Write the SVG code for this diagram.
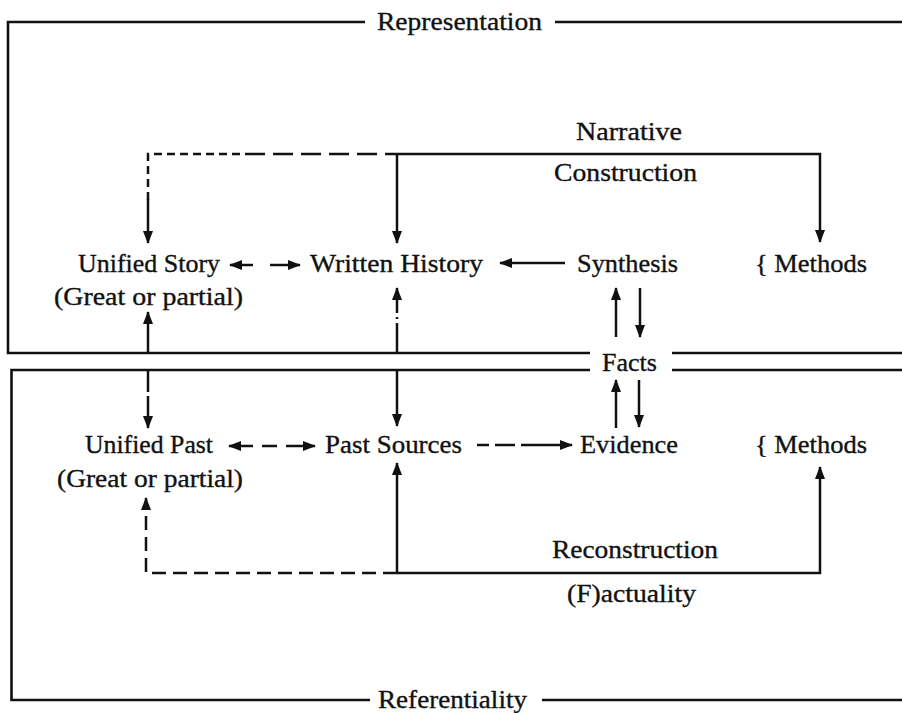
<svg xmlns="http://www.w3.org/2000/svg" width="902" height="713" viewBox="0 0 902 713">
<style>
  .t{font-family:"Liberation Serif","Times New Roman",serif;font-size:26px;fill:#111;stroke:#111;stroke-width:0.35}
  .box{fill:none;stroke:#111;stroke-width:2.6}
  .c{fill:none;stroke:#111;stroke-width:2.5}
  .d{stroke-dasharray:14 7}
</style>
<defs>
  <marker id="ah" viewBox="0 0 13 10" refX="12" refY="5" markerWidth="13" markerHeight="10" orient="auto-start-reverse" markerUnits="userSpaceOnUse">
    <path d="M0,0 L13,5 L0,10 z" fill="#111"/>
  </marker>
</defs>

<g id="frames">
  <path class="box" d="M365,22 H8 V353 H590 M555,22 H902 M672,353 H902"/>
  <path class="box" d="M590,370 H11.5 V700 H370 M672,370 H902 M542,700 H902"/>
  <text class="t" x="377" y="30" textLength="165" lengthAdjust="spacingAndGlyphs">Representation</text>
  <text class="t" x="602" y="371" textLength="55" lengthAdjust="spacingAndGlyphs">Facts</text>
  <text class="t" x="378" y="708" textLength="149" lengthAdjust="spacingAndGlyphs">Referentiality</text>
</g>

<g id="labels">
  <text class="t" x="576" y="140" textLength="106" lengthAdjust="spacingAndGlyphs">Narrative</text>
  <text class="t" x="554" y="181" textLength="143" lengthAdjust="spacingAndGlyphs">Construction</text>
  <text class="t" x="552" y="558" textLength="166" lengthAdjust="spacingAndGlyphs">Reconstruction</text>
  <text class="t" x="567" y="602" textLength="129" lengthAdjust="spacingAndGlyphs">(F)actuality</text>
</g>

<g id="unified-story">
  <text class="t" x="78" y="272" textLength="142" lengthAdjust="spacingAndGlyphs">Unified Story</text>
  <text class="t" x="54" y="305" textLength="189" lengthAdjust="spacingAndGlyphs">(Great or partial)</text>
</g>
<g id="written-history">
  <text class="t" x="310" y="272" textLength="173" lengthAdjust="spacingAndGlyphs">Written History</text>
</g>
<g id="synthesis">
  <text class="t" x="577" y="272" textLength="101" lengthAdjust="spacingAndGlyphs">Synthesis</text>
</g>
<g id="methods-top">
  <text class="t" x="755" y="272" textLength="112" lengthAdjust="spacingAndGlyphs">{ Methods</text>
</g>
<g id="unified-past">
  <text class="t" x="85" y="453" textLength="128" lengthAdjust="spacingAndGlyphs">Unified Past</text>
  <text class="t" x="57" y="487" textLength="186" lengthAdjust="spacingAndGlyphs">(Great or partial)</text>
</g>
<g id="past-sources">
  <text class="t" x="325" y="453" textLength="137" lengthAdjust="spacingAndGlyphs">Past Sources</text>
</g>
<g id="evidence">
  <text class="t" x="580" y="453" textLength="98" lengthAdjust="spacingAndGlyphs">Evidence</text>
</g>
<g id="methods-bottom">
  <text class="t" x="755" y="453" textLength="112" lengthAdjust="spacingAndGlyphs">{ Methods</text>
</g>

<g id="connectors">
  <path class="c" d="M148,200 V154 H397" stroke-dasharray="8 5 8 5 8 5 8 5 8 5 8 5 8 5 8 5 8 5 8 5 8 5 20 8 20 8 20 8 20 8 20 8 20 8 20 8"/>
  <path class="c" d="M148,199 V243" marker-end="url(#ah)"/>
  <path class="c" d="M397,154 V243" marker-end="url(#ah)"/>
  <path class="c" d="M397,154 H820 V242" marker-end="url(#ah)"/>
  <path class="c" d="M253,265 H230" marker-end="url(#ah)"/>
  <path class="c" d="M270,265 H300" marker-end="url(#ah)"/>
  <path class="c" d="M565,263 H500" marker-end="url(#ah)"/>
  <path class="c" d="M616,337 V288" marker-end="url(#ah)"/>
  <path class="c" d="M640,288 V337" marker-end="url(#ah)"/>
  <path class="c" d="M148,353 V312" marker-end="url(#ah)"/>
  <path class="c" d="M397,353 V288" marker-end="url(#ah)" stroke-dasharray="30 4 2 4 60"/>
  <path class="c" d="M148,370 V428" marker-end="url(#ah)" stroke-dasharray="22 4 60"/>
  <path class="c" d="M397,370 V426" marker-end="url(#ah)"/>
  <path class="c" d="M616,428 V380" marker-end="url(#ah)"/>
  <path class="c" d="M639,380 V427" marker-end="url(#ah)"/>
  <path class="c" d="M229,446 H315" marker-start="url(#ah)" marker-end="url(#ah)" stroke-dasharray="24 9 15 9 40"/>
  <path class="c" d="M477,445 H572" marker-end="url(#ah)" stroke-dasharray="12 6 20 6 60"/>
  <path class="c" d="M397,573 V463" marker-end="url(#ah)"/>
  <path class="c d" d="M397,573 H146 V498" marker-end="url(#ah)"/>
  <path class="c" d="M397,573 H820 V467" marker-end="url(#ah)"/>
</g>
</svg>
